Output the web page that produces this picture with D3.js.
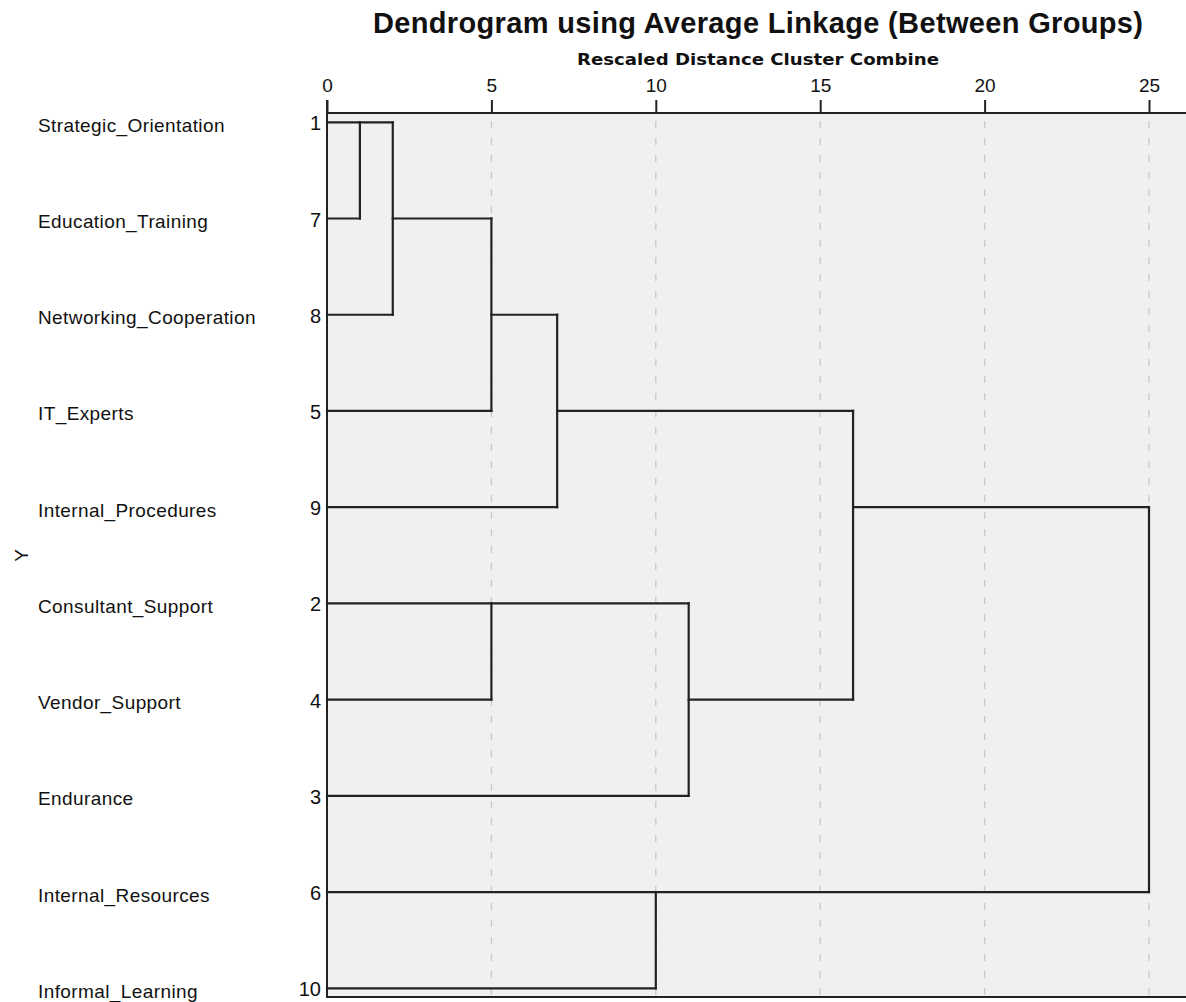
<!DOCTYPE html>
<html>
<head>
<meta charset="utf-8">
<script src="https://cdn.jsdelivr.net/npm/d3@7"></script>
<style>
  body { margin: 0; background: #fff; }
  svg text { font-family: "Liberation Sans", Arial, sans-serif; fill: #111; }
</style>
</head>
<body>
<div id="chart"></div>
<script>
// leaves, in the order they are drawn from top to bottom
const labels = ["Strategic_Orientation", "Education_Training", "Networking_Cooperation", "IT_Experts",
  "Internal_Procedures", "Consultant_Support", "Vendor_Support", "Endurance", "Internal_Resources", "Informal_Learning"]
const caseNumbers = [1, 7, 8, 5, 9, 2, 4, 3, 6, 10]

// merge steps: leaves are 0..9, step k makes node 10 + k
const mergeA = [0, 10, 11, 5, 12, 8, 13, 14, 17]
const mergeB = [1, 2, 3, 6, 4, 9, 7, 16, 15]
const mergeDist = [1, 2, 5, 5, 7, 10, 11, 16, 25]

const ticks = [0, 5, 10, 15, 20, 25]

const width = 1186, height = 1002
const svg = d3.select("#chart").append("svg")
  .attr("width", width)
  .attr("height", height)

const plotLeft = 327, plotTop = 113, plotBottom = 997
const x = d3.scaleLinear().domain([0, 25]).range([plotLeft, 1149])
const y = d3.scaleLinear().domain([0, labels.length - 1]).range([122.3, 988.3])

// plot background
svg.append("rect")
  .attr("x", plotLeft).attr("y", plotTop)
  .attr("width", width - plotLeft).attr("height", plotBottom - plotTop)
  .attr("fill", "#f0f0f0")

// dashed grid
svg.append("g").selectAll("line")
  .data(ticks.filter(t => t > 0))
  .join("line")
    .attr("x1", d => x(d)).attr("x2", d => x(d))
    .attr("y1", plotTop + 8).attr("y2", plotBottom)
    .attr("stroke", "#c8c8c8")
    .attr("stroke-width", 1.3)
    .attr("stroke-dasharray", "7,10")

// axis on top
const axis = svg.append("g")
  .attr("transform", `translate(0,${plotTop})`)
  .call(d3.axisTop(x).tickValues(ticks).tickSize(13).tickPadding(8))
axis.select(".domain").remove()
axis.selectAll(".tick line").attr("stroke", "#222").attr("stroke-width", 2)
axis.selectAll(".tick text")
  .attr("font-family", "Liberation Sans, Arial, sans-serif")
  .attr("font-size", 19)
  .attr("fill", "#111")

svg.append("line")
  .attr("x1", plotLeft).attr("x2", width)
  .attr("y1", plotTop).attr("y2", plotTop)
  .attr("stroke", "#222").attr("stroke-width", 2)
svg.append("line")
  .attr("x1", plotLeft).attr("x2", width)
  .attr("y1", plotBottom).attr("y2", plotBottom)
  .attr("stroke", "#222").attr("stroke-width", 2)
svg.append("line")
  .attr("x1", plotLeft).attr("x2", plotLeft)
  .attr("y1", plotTop - 13).attr("y2", plotBottom + 1)
  .attr("stroke", "#222").attr("stroke-width", 2)

// work out row and height of every node
const nodeRow = labels.map((d, i) => i)
const nodeDist = labels.map(() => 0)
const links = []
mergeDist.forEach((d, k) => {
  const a = mergeA[k], b = mergeB[k]
  links.push({x1: nodeDist[a], x2: d, r1: nodeRow[a], r2: nodeRow[a]})
  links.push({x1: nodeDist[b], x2: d, r1: nodeRow[b], r2: nodeRow[b]})
  links.push({x1: d, x2: d, r1: nodeRow[a], r2: nodeRow[b]})
  nodeRow.push(Math.floor((nodeRow[a] + nodeRow[b]) / 2))
  nodeDist.push(d)
})

svg.append("g").selectAll("line")
  .data(links)
  .join("line")
    .attr("x1", d => x(d.x1)).attr("x2", d => x(d.x2))
    .attr("y1", d => y(d.r1)).attr("y2", d => y(d.r2))
    .attr("stroke", "#222")
    .attr("stroke-width", 2.2)
    .attr("stroke-linecap", "square")

// row labels and case numbers
svg.append("g").selectAll("text")
  .data(labels)
  .join("text")
    .attr("x", 38)
    .attr("y", (d, i) => y(i) + 9.5)
    .attr("font-size", 19)
    .attr("letter-spacing", 0.4)
    .text(d => d)

svg.append("g").selectAll("text")
  .data(caseNumbers)
  .join("text")
    .attr("x", 321)
    .attr("y", (d, i) => y(i) + 8)
    .attr("text-anchor", "end")
    .attr("font-size", 20)
    .text(d => d)

// titles
svg.append("text")
  .attr("x", 758).attr("y", 33)
  .attr("text-anchor", "middle")
  .attr("font-size", 29)
  .attr("font-weight", "bold")
  .attr("textLength", 770)
  .attr("lengthAdjust", "spacing")
  .text("Dendrogram using Average Linkage (Between Groups)")

svg.append("text")
  .attr("x", 758).attr("y", 65)
  .attr("text-anchor", "middle")
  .style("font-family", "'DejaVu Sans', sans-serif")
  .attr("font-size", 15.5)
  .attr("font-weight", "bold")
  .attr("textLength", 362)
  .attr("lengthAdjust", "spacingAndGlyphs")
  .text("Rescaled Distance Cluster Combine")

svg.append("text")
  .attr("transform", `translate(28,${y(4.5)}) rotate(-90)`)
  .attr("text-anchor", "middle")
  .attr("font-size", 19)
  .text("Y")
</script>
</body>
</html>
